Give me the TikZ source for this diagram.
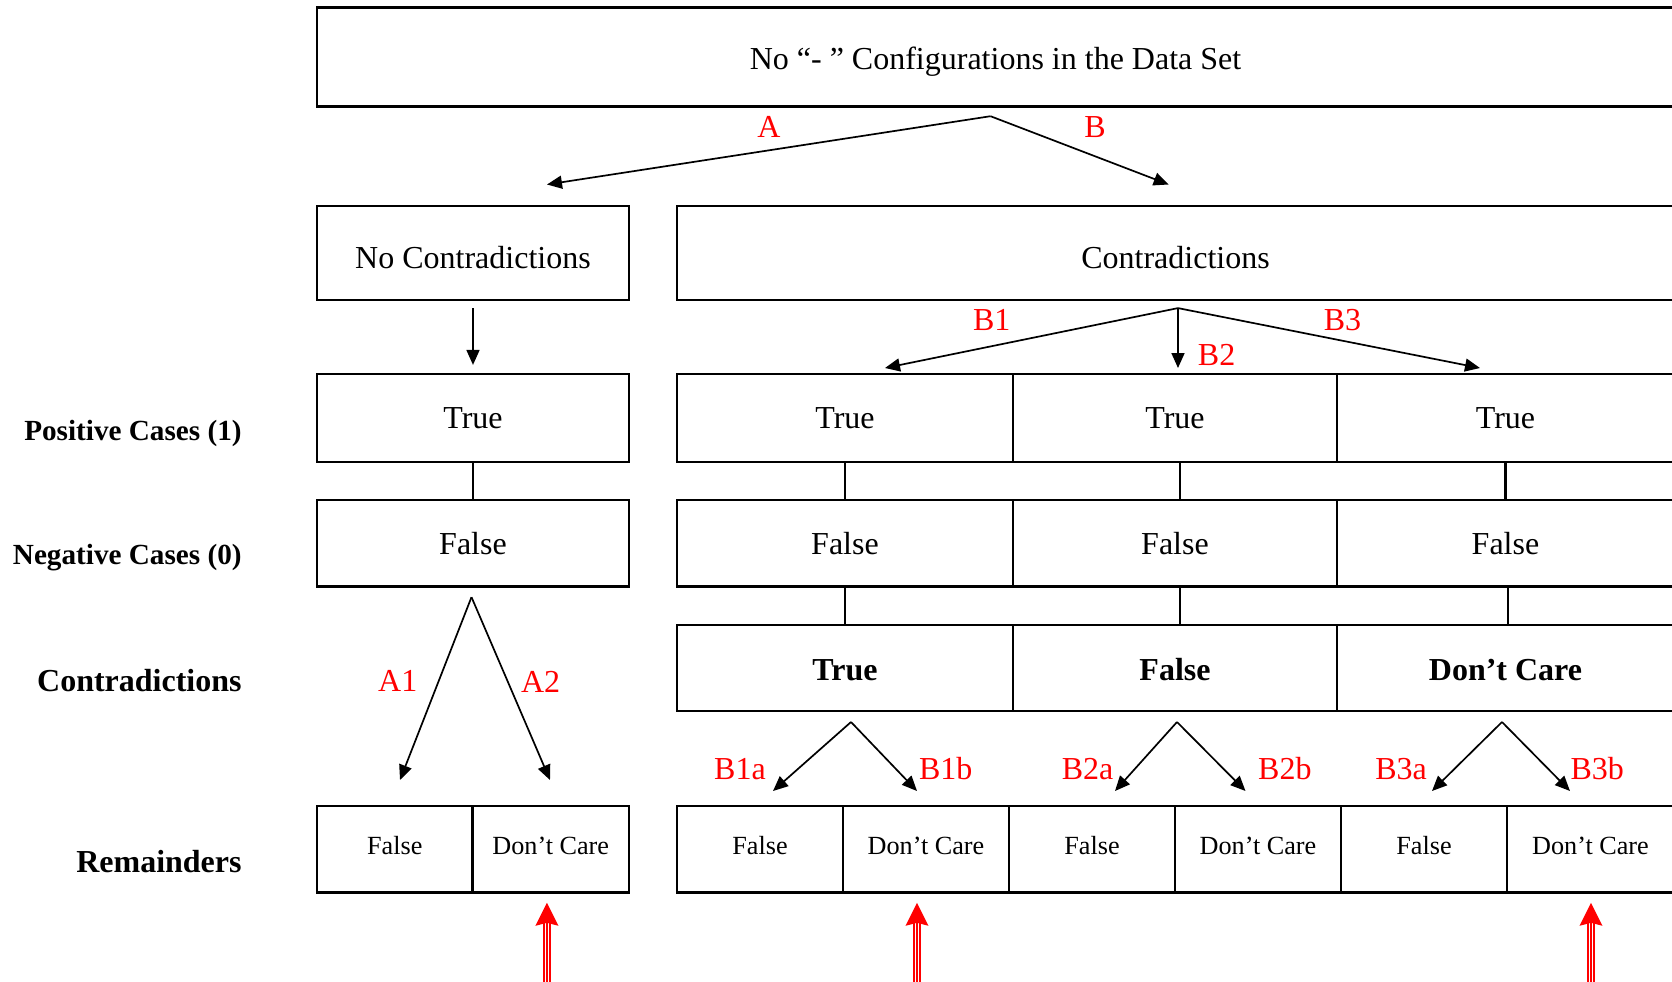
\documentclass[tikz,border=0pt]{standalone}
\usepackage{fontspec}
\setmainfont{Liberation Serif}
\usetikzlibrary{arrows.meta}

% upward red pointer: filled head and a triple-line shaft
\newcommand\redpointer[1]{%
  \fill[red] (#1) -- ++(-11.5,23) -- ++(11.5,-3) -- ++(11.5,3) -- cycle;
  \foreach \dx in {-2.9,0,2.9}
    \draw[red, line width=0.75pt] (#1) ++(\dx,19) -- ++(0,90);
}

\begin{document}
\begin{tikzpicture}[x=0.5pt, y=-0.5pt,
  cell/.style={draw, line width=1.1pt, inner sep=0pt, font=\fontsize{16}{19}\selectfont},
  small/.style={cell, text height=5.5pt, text depth=0pt, font=\fontsize{13.1}{16}\selectfont},
  strong/.style={cell, text height=12.8pt, text depth=0pt, font=\fontsize{16}{19}\selectfont\bfseries},
  rowlabel/.style={anchor=east, inner sep=0pt, font=\fontsize{16}{19}\selectfont\bfseries},
  tag/.style={text=red, inner sep=0pt, font=\fontsize{16}{19}\selectfont},
  flow/.style={line width=0.85pt, -{Triangle[length=7.5pt,width=6.5pt]}},
  link/.style={line width=1.1pt},
]
\useasboundingbox (0,0) rectangle (1672,981);
\clip (0,0) rectangle (1672,981);

% ---- header
\node[cell, text height=12pt, text depth=0pt, minimum width=678.5pt, minimum height=49.5pt] (top) at (995.5,57)
  {No “- ” Configurations in the Data Set};

% ---- second level
\node[cell, text height=15pt, text depth=0pt, minimum width=156pt, minimum height=47pt] (nocon) at (473,253) {No Contradictions};
\node[cell, text height=15pt, text depth=0pt, minimum width=498.5pt, minimum height=47pt] (con) at (1175.5,253) {Contradictions};

% ---- positive cases row
\node[cell, minimum width=156pt, minimum height=44pt] (t0) at (473,418) {True};
\node[cell, minimum width=168pt, minimum height=44pt] (t1) at (845,418) {True};
\node[cell, minimum width=162pt, minimum height=44pt] (t2) at (1175,418) {True};
\node[cell, minimum width=168.5pt, minimum height=44pt] (t3) at (1505.5,418) {True};

% ---- negative cases row
\node[cell, minimum width=156pt, minimum height=43.2pt] (f0) at (473,543.3) {False};
\node[cell, minimum width=168pt, minimum height=43.2pt] (f1) at (845,543.3) {False};
\node[cell, minimum width=162pt, minimum height=43.2pt] (f2) at (1175,543.3) {False};
\node[cell, minimum width=168.5pt, minimum height=43.2pt] (f3) at (1505.5,543.3) {False};

% ---- contradictions row
\node[strong, minimum width=168pt, minimum height=43.2pt] (c1) at (845,668) {True};
\node[strong, minimum width=162pt, minimum height=43.2pt] (c2) at (1175,668) {False};
\node[strong, minimum width=168.5pt, minimum height=43.2pt] (c3) at (1505.5,668) {Don’t Care};

% ---- remainders row
\node[small, minimum width=77.75pt, minimum height=43.2pt] (r0a) at (394.75,849.3) {False};
\node[small, minimum width=78.25pt, minimum height=43.2pt] (r0b) at (550.75,849.3) {Don’t Care};
\node[small, minimum width=83pt, minimum height=43.2pt] (r1a) at (760,849.3) {False};
\node[small, minimum width=83pt, minimum height=43.2pt] (r1b) at (926,849.3) {Don’t Care};
\node[small, minimum width=83pt, minimum height=43.2pt] (r2a) at (1092,849.3) {False};
\node[small, minimum width=83pt, minimum height=43.2pt] (r2b) at (1258,849.3) {Don’t Care};
\node[small, minimum width=83pt, minimum height=43.2pt] (r3a) at (1424,849.3) {False};
\node[small, minimum width=83.5pt, minimum height=43.2pt] (r3b) at (1590.5,849.3) {Don’t Care};

% ---- row captions
\node[rowlabel, font=\fontsize{14.6}{17}\selectfont\bfseries] (lpos) at (242,433) {Positive Cases (1)};
\node[rowlabel, font=\fontsize{14.6}{17}\selectfont\bfseries] (lneg) at (242,557.5) {Negative Cases (0)};
\node[rowlabel] (lcon) at (242,681) {Contradictions};
\node[rowlabel] (lrem) at (242,861.6) {Remainders};

% ---- branch points and arrow ends
\coordinate (topfork) at ([xshift=-2.5pt, yshift=-4.3pt]top.south);
\coordinate (aend) at (547,184.5);
\coordinate (bend) at (1168.7,184.5);
\coordinate (confork) at ([xshift=1.25pt, yshift=-3.5pt]con.south);
\coordinate (b1end) at (885,368);
\coordinate (b2end) at (1178,368);
\coordinate (b3end) at (1480,368);
\coordinate (afork) at ([xshift=-0.75pt, yshift=-4.75pt]f0.south);
\coordinate (a1end) at (400,780);
\coordinate (a2end) at (550,780);
\coordinate (c1fork) at ([xshift=3pt, yshift=-4.85pt]c1.south);
\coordinate (b1aend) at (773,791);
\coordinate (b1bend) at (917,791);
\coordinate (c2fork) at ([xshift=1pt, yshift=-4.85pt]c2.south);
\coordinate (b2aend) at (1115,791);
\coordinate (b2bend) at (1245.5,791);
\coordinate (c3fork) at ([xshift=-1.75pt, yshift=-4.85pt]c3.south);
\coordinate (b3aend) at (1432,791);
\coordinate (b3bend) at (1570,791);

% ---- arrows
\draw[flow] (topfork) -- (aend);
\draw[flow] (topfork) -- (bend);
\draw[flow] ([yshift=-3.5pt]nocon.south) -- ([yshift=4pt]t0.north);
\draw[flow] (confork) -- (b1end);
\draw[flow] (confork) -- (b2end);
\draw[flow] (confork) -- (b3end);
\draw[flow] (afork) -- (a1end);
\draw[flow] (afork) -- (a2end);
\draw[flow] (c1fork) -- (b1aend);
\draw[flow] (c1fork) -- (b1bend);
\draw[flow] (c2fork) -- (b2aend);
\draw[flow] (c2fork) -- (b2bend);
\draw[flow] (c3fork) -- (b3aend);
\draw[flow] (c3fork) -- (b3bend);

% ---- plain links between stacked cells
\draw[link] (t0.south) -- (f0.north);
\draw[link] (t1.south) -- (f1.north);
\draw[link] ([xshift=2.5pt]t2.south) -- ([xshift=2.5pt]f2.north);
\draw[link] (t3.south) -- (f3.north);
\draw[link] (f1.south) -- (c1.north);
\draw[link] ([xshift=2.5pt]f2.south) -- ([xshift=2.5pt]c2.north);
\draw[link] ([xshift=1.25pt]f3.south) -- ([xshift=1.25pt]c3.north);

% ---- branch tags
\node[tag] (tA) at (768.8,126.9) {A};
\node[tag] (tB) at (1095,126.9) {B};
\node[tag] (tB1) at (991.7,319.9) {B1};
\node[tag] (tB2) at (1216.6,355.1) {B2};
\node[tag] (tB3) at (1342.5,319.9) {B3};
\node[tag] (tA1) at (397.7,681.4) {A1};
\node[tag] (tA2) at (540.6,681.4) {A2};
\node[tag] (tB1a) at (740,768.8) {B1a};
\node[tag] (tB1b) at (945.8,768.8) {B1b};
\node[tag] (tB2a) at (1087.6,768.8) {B2a};
\node[tag] (tB2b) at (1284.9,768.8) {B2b};
\node[tag] (tB3a) at (1401.1,768.8) {B3a};
\node[tag] (tB3b) at (1597.3,768.8) {B3b};

% ---- red pointers under the highlighted remainders
\coordinate (p0) at ([xshift=-1.9pt, yshift=-4.6pt]r0b.south);
\coordinate (p1) at ([xshift=-4.5pt, yshift=-4.6pt]r1b.south);
\coordinate (p3) at ([xshift=0.25pt, yshift=-4.6pt]r3b.south);
\redpointer{p0}
\redpointer{p1}
\redpointer{p3}
\end{tikzpicture}
\end{document}
